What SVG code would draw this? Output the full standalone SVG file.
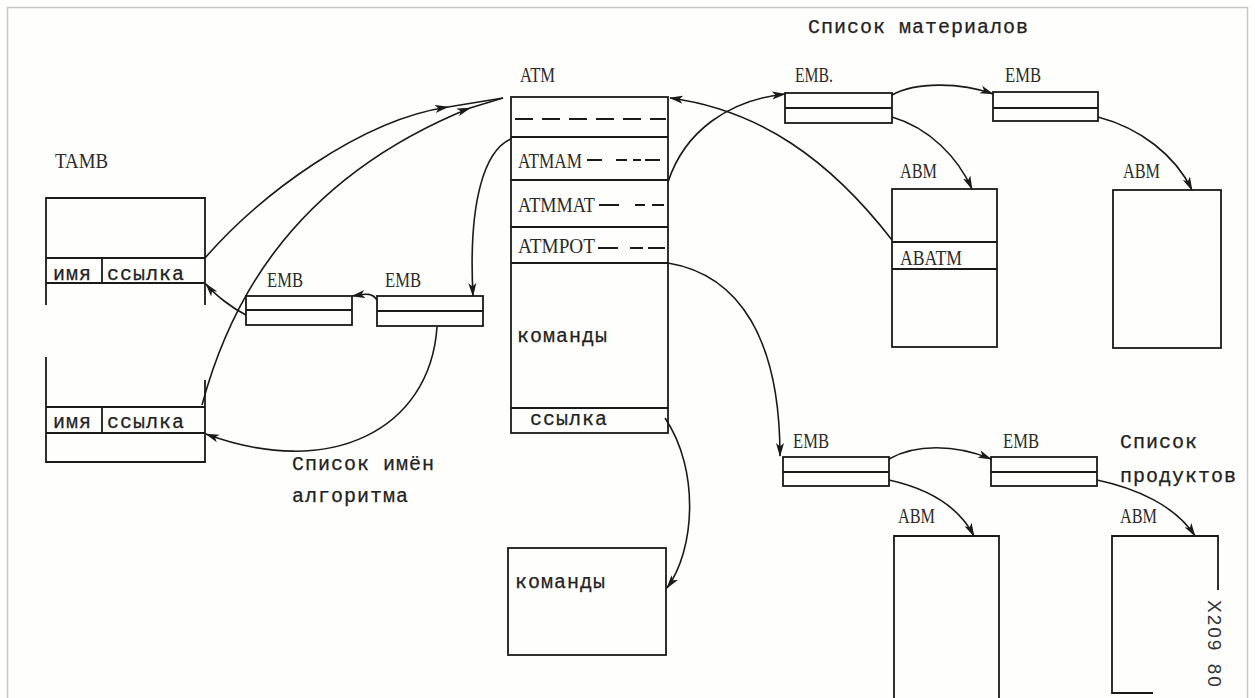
<svg xmlns="http://www.w3.org/2000/svg" width="1255" height="698" viewBox="0 0 1255 698">
<defs>
<style>
.bx{fill:none;stroke:#1a1a1a;stroke-width:1.8}
.dsh{fill:none;stroke:#1a1a1a;stroke-width:1.8;stroke-dasharray:18 9}
.cv{fill:none;stroke:#1a1a1a;stroke-width:1.6}
.lab{font-family:"Liberation Serif","DejaVu Serif",serif;font-size:22px;fill:#2a2a2a}
.tw{font-family:"Liberation Mono","DejaVu Sans Mono",monospace;font-size:20px;letter-spacing:1px;fill:#222;stroke:#222;stroke-width:0.25}
.rot{font-family:"Liberation Sans","DejaVu Sans",sans-serif;font-size:19px;letter-spacing:2px;fill:#333}
</style>
<marker id="ah" viewBox="0 0 14 9" refX="13" refY="4.5" markerWidth="14" markerHeight="9" markerUnits="userSpaceOnUse" orient="auto">
<path d="M0,0.5 L14,4.5 L0,8.5 L3.5,4.5 z" fill="#1a1a1a"/>
</marker>
</defs>
<rect x="0" y="0" width="1255" height="698" fill="#fefefc"/>
<rect x="7.5" y="7.5" width="1240" height="700" fill="none" stroke="#c8c8c8" stroke-width="1.5"/>

<g id="tamb-label"><text class="lab" x="55" y="168" textLength="53" lengthAdjust="spacingAndGlyphs">TAMB</text></g>

<g id="tamb1">
<path class="bx" d="M46,305 V198 H205 V305 M46,258 H205 M46,283 H205 M102,258 V283"/>
<text class="tw" x="53" y="280">имя</text>
<text class="tw" x="107" y="280">ссылка</text>
</g>

<g id="tamb2">
<path class="bx" d="M46,357 V462 H205 V380 M46,407 H205 M46,433 H205 M102,407 V433"/>
<text class="tw" x="53" y="428">имя</text>
<text class="tw" x="107" y="428">ссылка</text>
</g>

<g id="emb-l1">
<text class="lab" x="267" y="287" textLength="36" lengthAdjust="spacingAndGlyphs">EMB</text>
<rect class="bx" x="246" y="296" width="106" height="29"/>
<path class="bx" d="M246,310 H352"/>
</g>
<g id="emb-l2">
<text class="lab" x="385" y="287" textLength="36" lengthAdjust="spacingAndGlyphs">EMB</text>
<rect class="bx" x="377" y="296" width="106" height="30"/>
<path class="bx" d="M377,311 H483"/>
</g>

<g id="names-label">
<text class="tw" x="292" y="470">Список имён</text>
<text class="tw" x="292" y="502">алгоритма</text>
</g>

<g id="atm">
<text class="lab" x="520" y="82" textLength="35" lengthAdjust="spacingAndGlyphs">ATM</text>
<rect class="bx" x="511" y="97" width="157" height="336"/>
<path class="bx" d="M511,137 H668 M511,180 H668 M511,227 H668 M511,263 H668 M511,408 H668"/>
<path class="dsh" d="M515,119 H666"/>
<text class="lab" x="518" y="168" textLength="64" lengthAdjust="spacingAndGlyphs">ATMAM</text>
<path class="dsh" d="M587,160 H666" style="stroke-dasharray:15 14 11 6 8 4"/>
<text class="lab" x="518" y="212" textLength="77" lengthAdjust="spacingAndGlyphs">ATMMAT</text>
<path class="dsh" d="M599,205 H666" style="stroke-dasharray:20 16 10 7 12 4"/>
<text class="lab" x="518" y="253" textLength="77" lengthAdjust="spacingAndGlyphs">ATMPOT</text>
<path class="dsh" d="M598,248 H666" style="stroke-dasharray:20 12 13 5 17 4"/>
<text class="tw" x="517" y="342">команды</text>
<text class="tw" x="530" y="425">ссылка</text>
</g>

<g id="commands">
<rect class="bx" x="508" y="548" width="158" height="107"/>
<text class="tw" x="515" y="588">команды</text>
</g>

<g id="mat-label"><text class="tw" x="808" y="33">Список материалов</text></g>

<g id="emb-m1">
<text class="lab" x="795" y="82" textLength="38" lengthAdjust="spacingAndGlyphs">EMB.</text>
<rect class="bx" x="785" y="93" width="107" height="30"/>
<path class="bx" d="M785,108 H892"/>
</g>
<g id="emb-m2">
<text class="lab" x="1005" y="82" textLength="36" lengthAdjust="spacingAndGlyphs">EMB</text>
<rect class="bx" x="993" y="92" width="105" height="29"/>
<path class="bx" d="M993,108 H1098"/>
</g>
<g id="abm-m1">
<text class="lab" x="900" y="178" textLength="37" lengthAdjust="spacingAndGlyphs">ABM</text>
<rect class="bx" x="892" y="189" width="105" height="158"/>
<path class="bx" d="M892,242 H997 M892,269 H997"/>
<text class="lab" x="900" y="265" textLength="62" lengthAdjust="spacingAndGlyphs">ABATM</text>
</g>
<g id="abm-m2">
<text class="lab" x="1123" y="178" textLength="37" lengthAdjust="spacingAndGlyphs">ABM</text>
<rect class="bx" x="1113" y="190" width="108" height="158"/>
</g>

<g id="emb-p1">
<text class="lab" x="793" y="448" textLength="36" lengthAdjust="spacingAndGlyphs">EMB</text>
<rect class="bx" x="783" y="457" width="106" height="29"/>
<path class="bx" d="M783,472 H889"/>
</g>
<g id="emb-p2">
<text class="lab" x="1003" y="448" textLength="36" lengthAdjust="spacingAndGlyphs">EMB</text>
<rect class="bx" x="991" y="457" width="106" height="29"/>
<path class="bx" d="M991,472 H1097"/>
</g>
<g id="prod-label">
<text class="tw" x="1120" y="448">Список</text>
<text class="tw" x="1120" y="482">продуктов</text>
</g>
<g id="abm-p1">
<text class="lab" x="898" y="523" textLength="37" lengthAdjust="spacingAndGlyphs">ABM</text>
<path class="bx" d="M894,698 V536 H999 V698"/>
</g>
<g id="abm-p2">
<text class="lab" x="1120" y="523" textLength="37" lengthAdjust="spacingAndGlyphs">ABM</text>
<path class="bx" d="M1218,590 V536 H1112 V693 H1153"/>
</g>
<g id="code"><text class="rot" transform="translate(1208,600) rotate(90)">X209<tspan dx="4"> 80</tspan></text></g>

<g id="connectors">
<path class="cv" d="M205,258 C260,195 360,120 448,107 L503,98" marker-mid="url(#ah)"/>
<path class="cv" d="M202,405 C225,320 280,185 470,108 L503,98" marker-mid="url(#ah)"/>
<path class="cv" d="M511,139 C485,150 468,200 473,296" marker-end="url(#ah)"/>
<path class="cv" d="M377,300 C372,292 365,294 352,296" marker-end="url(#ah)"/>
<path class="cv" d="M246,315 C232,308 215,295 206,284" marker-end="url(#ah)"/>
<path class="cv" d="M437,327 C430,430 330,480 206,434" marker-end="url(#ah)"/>
<path class="cv" d="M668,182 C685,130 730,100 785,94" marker-end="url(#ah)"/>
<path class="cv" d="M892,240 C830,160 760,110 670,98" marker-end="url(#ah)"/>
<path class="cv" d="M892,95 C915,82 960,82 993,94" marker-end="url(#ah)"/>
<path class="cv" d="M892,117 C930,128 958,158 972,189" marker-end="url(#ah)"/>
<path class="cv" d="M1098,117 C1140,128 1175,155 1192,190" marker-end="url(#ah)"/>
<path class="cv" d="M668,263 C740,275 780,340 780,456" marker-end="url(#ah)"/>
<path class="cv" d="M889,459 C915,444 955,444 991,459" marker-end="url(#ah)"/>
<path class="cv" d="M889,480 C925,488 958,505 974,536" marker-end="url(#ah)"/>
<path class="cv" d="M1097,480 C1135,488 1175,505 1195,536" marker-end="url(#ah)"/>
<path class="cv" d="M665,418 C700,470 695,550 667,588" marker-end="url(#ah)"/>
</g>
</svg>
